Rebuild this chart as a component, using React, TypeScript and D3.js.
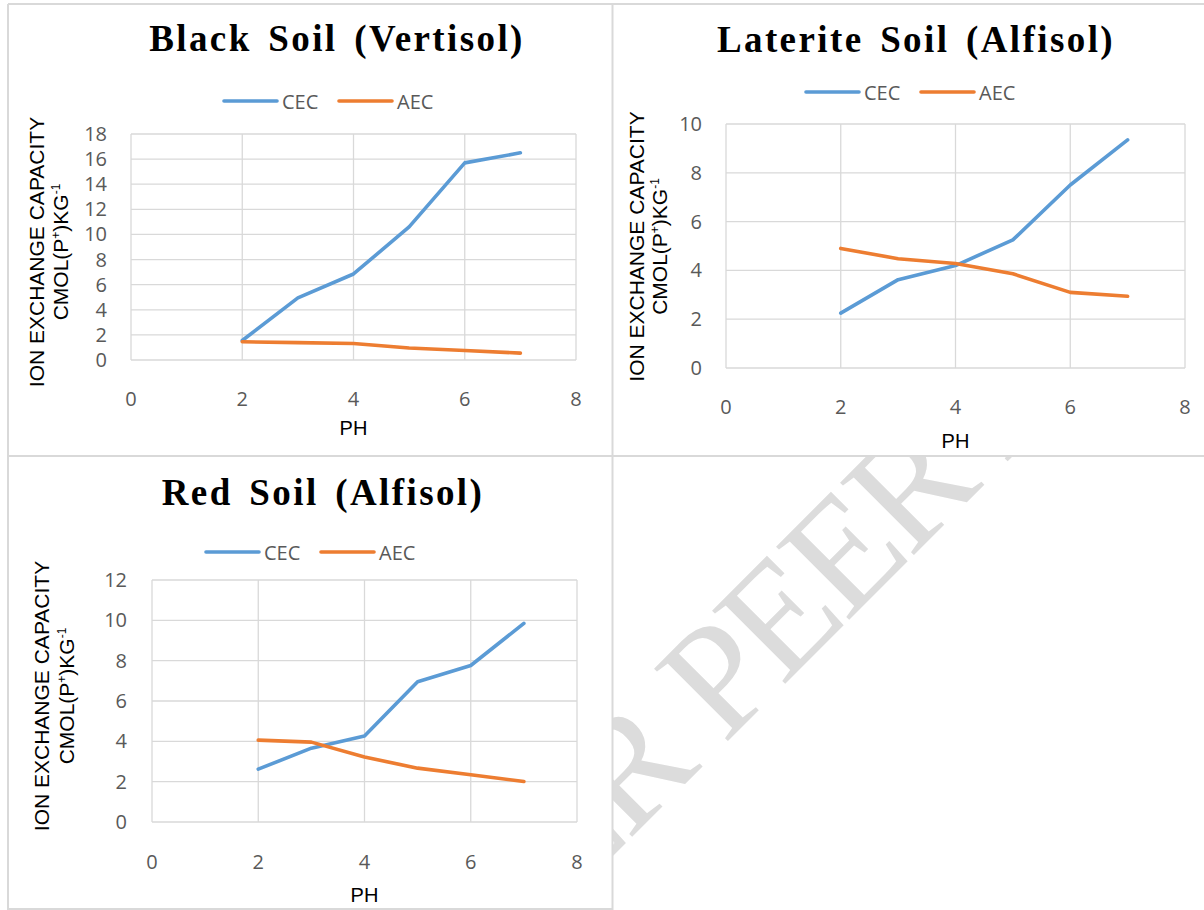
import React from 'react';
import * as d3 from 'd3';

// ---------- DATA ----------
const phValues = [2, 3, 4, 5, 6, 7];
const blackCEC = [1.55, 4.95, 6.85, 10.6, 15.7, 16.5];
const blackAEC = [1.45, 1.38, 1.32, 0.96, 0.76, 0.55];
const lateriteCEC = [2.25, 3.62, 4.2, 5.25, 7.5, 9.35];
const lateriteAEC = [4.9, 4.48, 4.28, 3.86, 3.1, 2.94];
const redCEC = [2.62, 3.66, 4.27, 6.95, 7.76, 9.85];
const redAEC = [4.06, 3.96, 3.22, 2.67, 2.34, 2.01];
const xTicks = [0, 2, 4, 6, 8];
const blackYTicks = [0, 2, 4, 6, 8, 10, 12, 14, 16, 18];
const lateriteYTicks = [0, 2, 4, 6, 8, 10];
const redYTicks = [0, 2, 4, 6, 8, 10, 12];
const seriesNames = ['CEC', 'AEC'];
const seriesColors = ['#5B9BD5', '#ED7D31'];
const titles = ['Black Soil (Vertisol)', 'Laterite Soil (Alfisol)', 'Red Soil (Alfisol)'];
const xAxisTitle = 'PH';
const yAxisLine1 = 'ION EXCHANGE CAPACITY';
const watermarkBefore = 'UNDER';
const watermarkAfter = 'PEER REVIEW';

// ---------- LAYOUT ----------
type Layout = {
  left: number; right: number; top: number; bottom: number;
  titleX: number; titleY: number;
  legendX: number; legendY: number;
  yTickX: number; xTickY: number; phY: number;
  yl1X: number; yl2X: number; ylCY: number;
};

const layouts: Layout[] = [
  { left: 131, right: 576, top: 134, bottom: 360, titleX: 337, titleY: 51, legendX: 224, legendY: 101, yTickX: 107, xTickY: 406, phY: 435, yl1X: 36, yl2X: 60, ylCY: 252 },
  { left: 726, right: 1185, top: 124, bottom: 368, titleX: 916, titleY: 52, legendX: 806, legendY: 92, yTickX: 702, xTickY: 414, phY: 448, yl1X: 636, yl2X: 659, ylCY: 246.5 },
  { left: 152, right: 577, top: 580, bottom: 822, titleX: 323, titleY: 505, legendX: 206, legendY: 552, yTickX: 127, xTickY: 869, phY: 902, yl1X: 41, yl2X: 66, ylCY: 696 },
];

const panelData = [
  { cec: blackCEC, aec: blackAEC, yTicks: blackYTicks },
  { cec: lateriteCEC, aec: lateriteAEC, yTicks: lateriteYTicks },
  { cec: redCEC, aec: redAEC, yTicks: redYTicks },
];

const GRID = '#d9d9d9';
const TICK_COLOR = '#595959';
const TICK_FONT = "'Open Sans', sans-serif";
const ARIAL = "'Liberation Sans', Arial, sans-serif";
const SERIF = "'Liberation Serif', 'Times New Roman', serif";

function Panel({ idx }: { idx: number }) {
  const L = layouts[idx];
  const D = panelData[idx];
  const yMax = D.yTicks[D.yTicks.length - 1];
  const x = d3.scaleLinear().domain([0, 8]).range([L.left, L.right]);
  const y = d3.scaleLinear().domain([0, yMax]).range([L.bottom, L.top]);
  const line = d3.line<number>().x((_, i) => x(phValues[i])).y((d) => y(d));
  const series = [D.cec, D.aec];

  return (
    <g>
      {/* grid */}
      {D.yTicks.map((t) => (
        <line key={'h' + t} x1={L.left} x2={L.right} y1={y(t)} y2={y(t)} stroke={GRID} strokeWidth={1.3} />
      ))}
      {xTicks.map((t) => (
        <line key={'v' + t} x1={x(t)} x2={x(t)} y1={L.top} y2={L.bottom} stroke={GRID} strokeWidth={1.3} />
      ))}
      {/* y tick labels */}
      {D.yTicks.map((t) => (
        <text key={'yt' + t} x={L.yTickX} y={y(t) + 7} textAnchor="end" fontFamily={TICK_FONT} fontSize={20} fill={TICK_COLOR}>{t}</text>
      ))}
      {/* x tick labels */}
      {xTicks.map((t) => (
        <text key={'xt' + t} x={x(t)} y={L.xTickY} textAnchor="middle" fontFamily={TICK_FONT} fontSize={20} fill={TICK_COLOR}>{t}</text>
      ))}
      {/* series */}
      {series.map((s, i) => (
        <path key={'s' + i} d={line(s) || ''} fill="none" stroke={seriesColors[i]} strokeWidth={3.6} strokeLinejoin="round" strokeLinecap="round" />
      ))}
      {/* title */}
      <text x={L.titleX} y={L.titleY} textAnchor="middle" fontFamily={SERIF} fontWeight="bold" fontSize={37} letterSpacing={2.4} wordSpacing={5} fill="#000">{titles[idx]}</text>
      {/* legend */}
      {seriesNames.map((n, i) => {
        const lx = L.legendX + i * 115;
        return (
          <g key={'lg' + i}>
            <line x1={lx} x2={lx + 53} y1={L.legendY} y2={L.legendY} stroke={seriesColors[i]} strokeWidth={3.6} strokeLinecap="round" />
            <text x={lx + 58} y={L.legendY + 7.5} fontFamily={TICK_FONT} fontSize={20} fill={TICK_COLOR}>{n}</text>
          </g>
        );
      })}
      {/* x axis title */}
      <text x={(L.left + L.right) / 2} y={L.phY} textAnchor="middle" fontFamily={ARIAL} fontSize={20} fill="#000">{xAxisTitle}</text>
      {/* y axis title */}
      <text transform={`translate(${L.yl1X + 7.5},${L.ylCY}) rotate(-90)`} textAnchor="middle" fontFamily={ARIAL} fontSize={21} fill="#000">{yAxisLine1}</text>
      <text transform={`translate(${L.yl2X + 7.5},${L.ylCY}) rotate(-90)`} textAnchor="middle" fontFamily={ARIAL} fontSize={21} fill="#000">
        CMOL(P<tspan fontSize={12} dy={-8}>+</tspan><tspan dy={8}>)KG</tspan><tspan fontSize={12} dy={-8}>-1</tspan>
      </text>
    </g>
  );
}

export default function App() {
  return (
    <div style={{ position: 'absolute', left: 0, top: 0 }}>
      <svg width={1204} height={910} style={{ display: 'block', background: '#fff' }}>
        <defs>
          <clipPath id="wmclip">
            <rect x={613} y={457} width={600} height={460} />
          </clipPath>
        </defs>
        {/* watermark */}
        <g clipPath="url(#wmclip)">
          <g transform="translate(724,745) rotate(-45)">
            <text x={-36} y={0} textAnchor="end" fontFamily={SERIF} fontSize={158} letterSpacing={-6} fill="#dcdcdc">{watermarkBefore}</text>
            <text x={0} y={0} textAnchor="start" fontFamily={SERIF} fontSize={158} letterSpacing={-6} fill="#dcdcdc">{watermarkAfter}</text>
          </g>
        </g>
        {/* panel borders */}
        <g stroke={GRID} strokeWidth={2} fill="none">
          <line x1={8} x2={1204} y1={4} y2={4} />
          <line x1={8} x2={1204} y1={456} y2={456} />
          <line x1={8} x2={612} y1={909} y2={909} />
          <line x1={8} x2={8} y1={4} y2={910} />
          <line x1={612.5} x2={612.5} y1={4} y2={910} />
        </g>
        {[0, 1, 2].map((i) => (
          <Panel key={i} idx={i} />
        ))}
      </svg>
    </div>
  );
}
